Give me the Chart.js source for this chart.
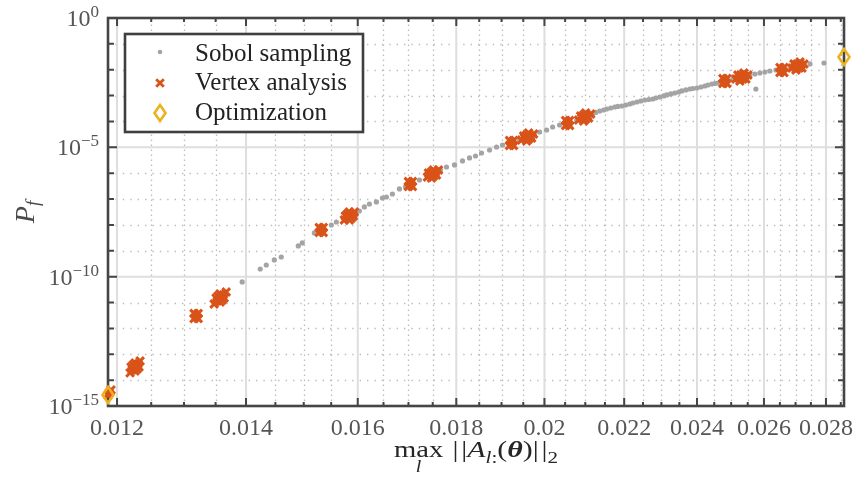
<!DOCTYPE html>
<html>
<head>
<meta charset="utf-8">
<script src="https://cdn.jsdelivr.net/npm/chart.js@4.4.0/dist/chart.umd.min.js"></script>
<style>
  html, body { margin: 0; padding: 0; background: #fff; }
  #wrap { width: 856px; height: 478px; }
</style>
</head>
<body>
<div id="wrap"><canvas id="chart" width="856" height="478"></canvas></div>
<script>
// x: max_l ||A_l:(theta)||_2   y: P_f   (both axes logarithmic)
const sobolX = [
  0.013936, 0.014240, 0.014343, 0.014481, 0.014602, 0.014902, 0.014974, 0.015191, 0.015337, 0.015503,
  0.015596, 0.015746, 0.015840, 0.015954, 0.016031, 0.016127, 0.016224, 0.016361, 0.016479, 0.016558,
  0.016677, 0.016817, 0.016938, 0.017040, 0.017225, 0.017495, 0.017663, 0.017790, 0.017961, 0.018134,
  0.018287, 0.018418, 0.018551, 0.018730, 0.018887, 0.019023, 0.019229, 0.019414, 0.019601, 0.019766,
  0.019885, 0.020052, 0.020196, 0.020366, 0.020562, 0.020785, 0.020985, 0.021187, 0.021263, 0.021365,
  0.021467, 0.021545, 0.021648, 0.021752, 0.021830, 0.021935, 0.022040, 0.022146, 0.022226, 0.022332,
  0.022439, 0.022547, 0.022655, 0.022764, 0.022846, 0.022956, 0.023066, 0.023149, 0.023260, 0.023371,
  0.023483, 0.023568, 0.023681, 0.023795, 0.023880, 0.023995, 0.024110, 0.024226, 0.024313, 0.024429,
  0.024517, 0.024606, 0.024694, 0.024813, 0.025051, 0.025323, 0.025566, 0.025720, 0.025874, 0.026029,
  0.026185, 0.026374, 0.026564, 0.026820, 0.027078, 0.027273, 0.027469, 0.025750, 0.027934
];
const sobolY = [
  6.24e-11, 1.98e-10, 2.83e-10, 4.42e-10, 5.77e-10, 1.54e-9, 2.01e-9, 4.89e-9, 6.39e-9, 9.96e-9,
  1.30e-8, 1.70e-8, 2.22e-8, 2.90e-8, 3.46e-8, 4.95e-8, 6.46e-8, 7.72e-8, 1.10e-7, 1.20e-7,
  1.57e-7, 2.46e-7, 2.93e-7, 3.83e-7, 5.47e-7, 9.33e-7, 1.33e-6, 1.74e-6, 2.08e-6, 2.97e-6,
  3.88e-6, 4.63e-6, 6.05e-6, 7.90e-6, 1.03e-5, 1.23e-5, 1.47e-5, 1.92e-5, 2.51e-5, 3.00e-5,
  3.92e-5, 4.68e-5, 6.12e-5, 7.31e-5, 8.73e-5, 1.14e-4, 1.49e-4, 1.95e-4, 2.23e-4, 2.54e-4,
  2.78e-4, 3.04e-4, 3.32e-4, 3.63e-4, 3.80e-4, 3.97e-4, 4.34e-4, 4.74e-4, 5.18e-4, 5.66e-4,
  6.19e-4, 6.77e-4, 7.08e-4, 7.40e-4, 8.09e-4, 8.84e-4, 9.68e-4, 1.06e-3, 1.16e-3, 1.26e-3,
  1.38e-3, 1.51e-3, 1.65e-3, 1.80e-3, 1.88e-3, 1.97e-3, 2.15e-3, 2.35e-3, 2.57e-3, 2.81e-3,
  2.94e-3, 3.07e-3, 3.36e-3, 3.67e-3, 4.39e-3, 5.24e-3, 6.26e-3, 6.85e-3, 7.48e-3, 8.18e-3,
  8.94e-3, 9.77e-3, 1.07e-2, 1.17e-2, 1.40e-2, 1.52e-2, 1.67e-2, 1.80e-3, 1.82e-2
];

// vertex analysis: one row per cluster
const vertexX = [
  0.011871, 0.011886, 0.011914,
  0.012188, 0.012217, 0.012261, 0.012305, 0.012335, 0.012232, 0.012291, 0.012320, 0.012261, 0.012261, 0.012203,
  0.013158, 0.013222, 0.013158, 0.013222, 0.013190,
  0.013477, 0.013526, 0.013574, 0.013623, 0.013672, 0.013542, 0.013607, 0.013639, 0.013574, 0.013574, 0.013509,
  0.015281, 0.015355, 0.015281, 0.015355, 0.015318,
  0.015746, 0.015803, 0.015840, 0.015897, 0.015936, 0.015803, 0.015878, 0.015916, 0.015840, 0.015840, 0.015765,
  0.016999, 0.017081, 0.016999, 0.017081, 0.017040,
  0.017390, 0.017432, 0.017495, 0.017558, 0.017621, 0.017474, 0.017516, 0.017579, 0.017516, 0.017474, 0.017411,
  0.019183, 0.019275, 0.019183, 0.019275, 0.019229,
  0.019461, 0.019531, 0.019601, 0.019672, 0.019742, 0.019578, 0.019625, 0.019695, 0.019625, 0.019578, 0.019508,
  0.020513, 0.020611, 0.020513, 0.020611, 0.020562,
  0.020835, 0.020910, 0.020985, 0.021060, 0.021136, 0.020960, 0.021010, 0.021085, 0.021010, 0.020960, 0.020885,
  0.024754, 0.024872, 0.024754, 0.024872, 0.024813,
  0.025141, 0.025232, 0.025323, 0.025413, 0.025505, 0.025292, 0.025353, 0.025444, 0.025383, 0.025262, 0.025202,
  0.026501, 0.026628, 0.026501, 0.026628, 0.026564,
  0.026884, 0.026982, 0.027078, 0.027176, 0.027273, 0.027046, 0.027111, 0.027208, 0.027143, 0.027014, 0.026949
];
const vertexY = [
  2.67e-15, 3.19e-15, 4.18e-15,
  1.90e-14, 2.48e-14, 3.23e-14, 4.22e-14, 5.51e-14, 3.86e-14, 2.71e-14, 3.23e-14, 4.61e-14, 2.26e-14, 3.23e-14,
  3.78e-12, 3.78e-12, 2.43e-12, 2.43e-12, 3.03e-12,
  8.81e-12, 1.15e-11, 1.50e-11, 1.96e-11, 2.56e-11, 1.80e-11, 1.26e-11, 1.50e-11, 2.15e-11, 1.05e-11, 1.50e-11,
  7.98e-9, 7.98e-9, 5.12e-9, 5.12e-9, 6.39e-9,
  1.56e-8, 1.86e-8, 2.22e-8, 2.65e-8, 3.17e-8, 2.65e-8, 1.86e-8, 2.22e-8, 3.17e-8, 1.56e-8, 2.22e-8,
  4.78e-7, 4.78e-7, 3.07e-7, 3.07e-7, 3.83e-7,
  7.14e-7, 8.54e-7, 9.33e-7, 1.11e-6, 1.33e-6, 1.11e-6, 7.81e-7, 8.54e-7, 1.33e-6, 6.54e-7, 1.02e-6,
  1.84e-5, 1.84e-5, 1.18e-5, 1.18e-5, 1.47e-5,
  1.92e-5, 2.30e-5, 2.51e-5, 2.75e-5, 3.28e-5, 3.00e-5, 2.10e-5, 2.30e-5, 3.59e-5, 1.76e-5, 2.75e-5,
  1.09e-4, 1.09e-4, 6.99e-5, 6.99e-5, 8.73e-5,
  1.14e-4, 1.36e-4, 1.49e-4, 1.63e-4, 1.95e-4, 1.78e-4, 1.25e-4, 1.36e-4, 2.13e-4, 1.04e-4, 1.63e-4,
  4.58e-3, 4.58e-3, 2.94e-3, 2.94e-3, 3.67e-3,
  4.39e-3, 4.79e-3, 5.24e-3, 5.73e-3, 6.26e-3, 6.26e-3, 4.39e-3, 4.39e-3, 7.48e-3, 3.67e-3, 6.26e-3,
  1.22e-2, 1.22e-2, 7.82e-3, 7.82e-3, 9.77e-3,
  1.17e-2, 1.28e-2, 1.40e-2, 1.52e-2, 1.67e-2, 1.67e-2, 1.17e-2, 1.17e-2, 1.99e-2, 9.77e-3, 1.67e-2
];

const optimX = [0.011871, 0.028610];
const optimY = [2.67e-15, 3.11e-2];

const xTickLabels = ['0.012', '0.014', '0.016', '0.018', '0.02', '0.022', '0.024', '0.026', '0.028'];
const yTickExponents = [0, -5, -10, -15];

const X_MIN = 0.011871, X_MAX = 0.028610;
const Y_MIN = 1e-15, Y_MAX = 1;

const GRAY = '#a4a4a4';
const ORANGE = '#D95319';
const YELLOW = '#EDB120';
const SERIF = '"Liberation Serif", "DejaVu Serif", serif';

const pts = (xs, ys) => xs.map((v, i) => ({ x: v, y: ys[i] }));

// MATLAB-like diamond marker (a bit taller than wide)
function makeDiamond() {
    const c = document.createElement('canvas');
    c.width = 16; c.height = 22;
    const g = c.getContext('2d');
    g.strokeStyle = YELLOW;
    g.lineWidth = 2.6;
    g.beginPath();
    g.moveTo(8, 3); g.lineTo(13.5, 11); g.lineTo(8, 19); g.lineTo(2.5, 11);
    g.closePath();
    g.stroke();
    return c;
}
const diamond = makeDiamond();

const axesPlugin = {
    id: 'axesPlugin',
    beforeDatasetsDraw(chart) {
        const { ctx, chartArea: a, scales: { x, y } } = chart;
        ctx.save();

        // minor dotted grid
        ctx.strokeStyle = '#bcbcbc';
        ctx.lineWidth = 1.3;
        ctx.setLineDash([1.4, 3.6]);
        for (let k = 0; k <= 33; k++) {
            const v = 0.012 + k * 0.0005;
            if (k % 4 === 0 || v > X_MAX) continue;
            const px = Math.round(x.getPixelForValue(v)) + 0.5;
            ctx.beginPath(); ctx.moveTo(px, a.bottom); ctx.lineTo(px, a.top); ctx.stroke();
        }
        ctx.setLineDash([1.4, 6]);
        for (let e = -14; e < 0; e++) {
            if (e % 5 === 0) continue;
            const py = Math.round(y.getPixelForValue(Math.pow(10, e))) + 0.5;
            ctx.beginPath(); ctx.moveTo(a.left, py); ctx.lineTo(a.right, py); ctx.stroke();
        }

        // major solid grid
        ctx.setLineDash([]);
        ctx.strokeStyle = '#dedede';
        ctx.lineWidth = 2;
        xTickLabels.forEach(t => {
            const px = x.getPixelForValue(parseFloat(t));
            ctx.beginPath(); ctx.moveTo(px, a.bottom); ctx.lineTo(px, a.top); ctx.stroke();
        });
        yTickExponents.forEach(e => {
            const py = y.getPixelForValue(Math.pow(10, e));
            ctx.beginPath(); ctx.moveTo(a.left, py); ctx.lineTo(a.right, py); ctx.stroke();
        });

        // ticks (inside, on all four sides)
        ctx.strokeStyle = '#454545';
        ctx.lineWidth = 2;
        for (let k = 0; k <= 33; k++) {
            const v = 0.012 + k * 0.0005;
            if (v > X_MAX) continue;
            const len = k % 4 === 0 ? 8 : 4;
            const px = x.getPixelForValue(v);
            ctx.beginPath();
            ctx.moveTo(px, a.bottom); ctx.lineTo(px, a.bottom - len);
            ctx.moveTo(px, a.top); ctx.lineTo(px, a.top + len);
            ctx.stroke();
        }
        for (let e = -15; e <= 0; e++) {
            const len = e % 5 === 0 ? 9 : 6;
            const py = y.getPixelForValue(Math.pow(10, e));
            ctx.beginPath();
            ctx.moveTo(a.left, py); ctx.lineTo(a.left + len, py);
            ctx.moveTo(a.right, py); ctx.lineTo(a.right - len, py);
            ctx.stroke();
        }

        // box
        ctx.lineWidth = 2.6;
        ctx.strokeRect(a.left, a.top, a.right - a.left, a.bottom - a.top);
        ctx.restore();
    },
    afterDatasetsDraw(chart) {
        const { ctx, chartArea: a, scales: { x, y } } = chart;
        ctx.save();

        // x tick labels
        ctx.fillStyle = '#555';
        ctx.font = '24px ' + SERIF;
        ctx.textAlign = 'center';
        ctx.textBaseline = 'alphabetic';
        xTickLabels.forEach(t => {
            ctx.fillText(t, x.getPixelForValue(parseFloat(t)), 435);
        });

        // y tick labels 10^e
        ctx.textAlign = 'left';
        yTickExponents.forEach(e => {
            const py = y.getPixelForValue(Math.pow(10, e));
            const sup = e === 0 ? '0' : '\u2212' + Math.abs(e);
            ctx.font = '17px ' + SERIF;
            const ws = ctx.measureText(sup).width;
            ctx.font = '24px ' + SERIF;
            const wb = ctx.measureText('10').width;
            const right = 99;
            ctx.fillText('10', right - ws - wb, py + 8);
            ctx.font = '17px ' + SERIF;
            ctx.fillText(sup, right - ws, py - 1);
        });

        // x axis title: max_l ||A_{l:}(theta)||_2
        ctx.fillStyle = '#262626';
        const base = 457;
        const parts = [
            { t: 'max', f: '23px ' + SERIF, dy: 0 },
            { t: '  ', f: '15px ' + SERIF, dy: 0 },
            { t: '|', f: '24px ' + SERIF, dy: 0 },
            { t: ' ', f: '9px ' + SERIF, dy: 0 },
            { t: '|', f: '24px ' + SERIF, dy: 0 },
            { t: 'A', f: 'italic 24px ' + SERIF, dy: 0 },
            { t: 'l', f: 'italic 17px ' + SERIF, dy: 6 },
            { t: ':', f: '17px ' + SERIF, dy: 6 },
            { t: '(', f: '24px ' + SERIF, dy: 0 },
            { t: '\u03B8', f: 'italic bold 24px ' + SERIF, dy: 0 },
            { t: ')', f: '24px ' + SERIF, dy: 0 },
            { t: '|', f: '24px ' + SERIF, dy: 0 },
            { t: ' ', f: '9px ' + SERIF, dy: 0 },
            { t: '|', f: '24px ' + SERIF, dy: 0 },
            { t: '2', f: '17px ' + SERIF, dy: 6 }
        ];
        let total = 0;
        parts.forEach(p => { ctx.font = p.f; p.w = ctx.measureText(p.t).width; total += p.w; });
        const target = 164;
        const sx = Math.max(1, target / total);
        ctx.save();
        ctx.translate((a.left + a.right) / 2 - target / 2, 0);
        ctx.scale(sx, 1);
        let cx = 0;
        parts.forEach((p, i) => {
            ctx.font = p.f;
            ctx.fillText(p.t, cx, base + p.dy);
            if (i === 0) {
                ctx.font = 'italic 16px ' + SERIF;
                ctx.textAlign = 'center';
                ctx.fillText('l', cx + p.w / 2, base + 15);
                ctx.textAlign = 'left';
            }
            cx += p.w;
        });
        ctx.restore();

        // y axis title: P_f (rotated)
        ctx.fillStyle = '#4a4a4a';
        ctx.save();
        ctx.translate(34, 212);
        ctx.rotate(-Math.PI / 2);
        ctx.font = 'italic 28px ' + SERIF;
        const wp = ctx.measureText('P').width;
        ctx.font = 'italic 19px ' + SERIF;
        const wf = ctx.measureText('f').width;
        ctx.font = 'italic 28px ' + SERIF;
        ctx.fillText('P', -(wp + wf) / 2, 0);
        ctx.font = 'italic 19px ' + SERIF;
        ctx.fillText('f', -(wp + wf) / 2 + wp, 5);
        ctx.restore();

        // legend box
        const lx = 125, ly = 34, lw = 238, lh = 98;
        ctx.fillStyle = '#fff';
        ctx.fillRect(lx, ly, lw, lh);
        ctx.strokeStyle = '#3f3f3f';
        ctx.lineWidth = 2.6;
        ctx.strokeRect(lx, ly, lw, lh);

        const mx = 160;
        ctx.fillStyle = GRAY;
        ctx.beginPath(); ctx.arc(mx, 52, 2.3, 0, Math.PI * 2); ctx.fill();
        ctx.strokeStyle = ORANGE;
        ctx.lineWidth = 2.8;
        ctx.beginPath();
        ctx.moveTo(mx - 3.8, 79.2); ctx.lineTo(mx + 3.8, 86.8);
        ctx.moveTo(mx + 3.8, 79.2); ctx.lineTo(mx - 3.8, 86.8);
        ctx.stroke();
        ctx.drawImage(diamond, mx - diamond.width / 2, 113 - diamond.height / 2);

        ctx.fillStyle = '#222';
        ctx.font = '25px ' + SERIF;
        ctx.textAlign = 'left';
        const names = chart.data.datasets.map(d => d.label);
        ctx.fillText(names[0], 195, 61);
        ctx.fillText(names[1], 195, 90);
        ctx.fillText(names[2], 195, 120);
        ctx.restore();
    }
};

new Chart(document.getElementById('chart'), {
    type: 'scatter',
    data: {
        datasets: [
            {
                label: 'Sobol sampling',
                data: pts(sobolX, sobolY),
                backgroundColor: GRAY,
                borderWidth: 0,
                pointRadius: 2.6,
                order: 3
            },
            {
                label: 'Vertex analysis',
                data: pts(vertexX, vertexY),
                pointStyle: 'crossRot',
                borderColor: ORANGE,
                backgroundColor: ORANGE,
                borderWidth: 3,
                pointRadius: 5.5,
                clip: false,
                order: 2
            },
            {
                label: 'Optimization',
                data: pts(optimX, optimY),
                pointStyle: diamond,
                pointRadius: 9,
                clip: false,
                order: 1
            }
        ]
    },
    options: {
        responsive: false,
        animation: false,
        devicePixelRatio: 1,
        events: [],
        layout: { padding: { left: 108, right: 12, top: 18, bottom: 72 } },
        plugins: {
            legend: { display: false },
            tooltip: { enabled: false }
        },
        scales: {
            x: { type: 'logarithmic', min: X_MIN, max: X_MAX, display: false },
            y: { type: 'logarithmic', min: Y_MIN, max: Y_MAX, display: false }
        }
    },
    plugins: [axesPlugin]
});
</script>
</body>
</html>
